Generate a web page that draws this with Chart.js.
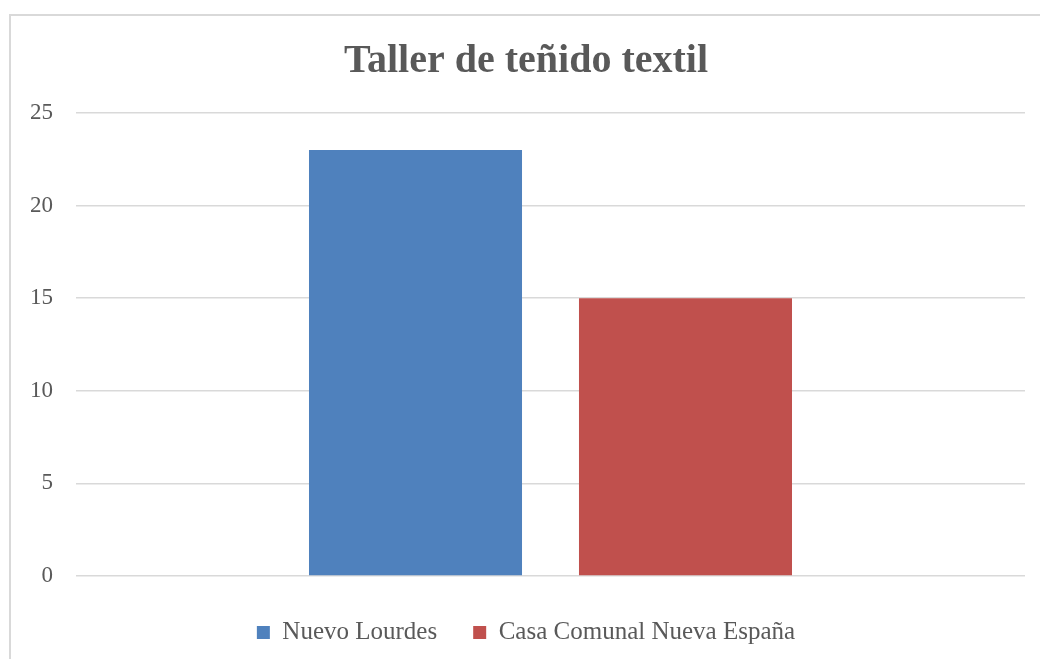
<!DOCTYPE html>
<html lang="es">
<head>
<meta charset="UTF-8">
<script src="https://cdn.jsdelivr.net/npm/chart.js"></script>
<title>Taller de teñido textil</title>
<style>
  html, body { margin: 0; padding: 0; background: #fff; overflow: hidden; }
  .frame { position: absolute; left: 9px; top: 14px; width: 1060px; height: 700px; border: 2px solid #d9d9d9; box-sizing: border-box; }
  .chart-box { position: absolute; left: 0; top: 0; width: 1040px; height: 659px; }
</style>
</head>
<body>
<div class="frame"></div>
<div class="chart-box">
  <canvas id="grafico"></canvas>
</div>

<script>
  // datos
  const categorias = [''];
  const series = ['Nuevo Lourdes', 'Casa Comunal Nueva España'];
  const nuevoLourdes = [23];
  const casaComunal = [15];
  const colores = ['#4f81bd', '#c0504d'];
  const ticksY = [0, 5, 10, 15, 20, 25];

  const fuente = "'Liberation Serif', 'DejaVu Serif', serif";
  const gris = '#595959';

  const ctx = document.getElementById('grafico').getContext('2d');

  new Chart(ctx, {
    type: 'bar',
    data: {
      labels: categorias,
      datasets: [
        { label: series[0], data: nuevoLourdes, backgroundColor: colores[0] },
        { label: series[1], data: casaComunal, backgroundColor: colores[1] }
      ]
    },
    options: {
      responsive: true,
      maintainAspectRatio: false,
      animation: false,
      categoryPercentage: 0.569,
      barPercentage: 0.789,
      layout: { padding: { top: 38, right: 15, bottom: 4, left: 27 } },
      plugins: {
        title: {
          display: true,
          text: 'Taller de teñido textil',
          color: gris,
          font: { family: fuente, size: 40, weight: 'bold' },
          padding: { top: 0, bottom: 27 }
        },
        legend: {
          position: 'bottom',
          labels: {
            color: gris,
            font: { family: fuente, size: 25 },
            boxWidth: 13,
            boxHeight: 13,
            padding: 36
          }
        },
        tooltip: { enabled: false }
      },
      scales: {
        x: {
          grid: { display: false },
          border: { display: false },
          ticks: { display: false },
          afterFit: axis => { axis.height = 8; }
        },
        y: {
          min: 0,
          max: 25,
          afterBuildTicks: axis => { axis.ticks = ticksY.map(v => ({ value: v })); },
          afterFit: axis => { axis.width = 49; },
          grid: { color: '#d9d9d9', lineWidth: 1.5, drawTicks: false },
          border: { display: false },
          ticks: {
            color: gris,
            font: { family: fuente, size: 23 },
            padding: 23
          }
        }
      }
    }
  });
</script>
</body>
</html>
